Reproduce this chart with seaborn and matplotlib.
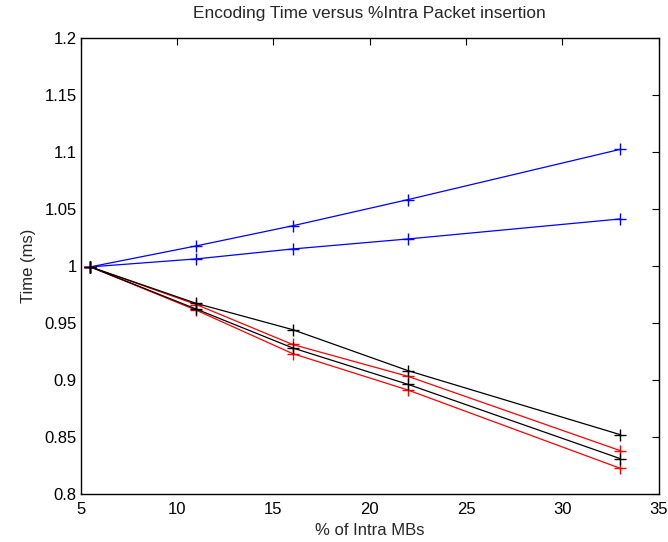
import matplotlib
matplotlib.use("Agg")
import matplotlib.pyplot as plt
import seaborn as sns
import numpy as np

# Data
intra_pct = [5.5, 11, 16, 22, 33]
blue_upper = [0.999, 1.0174, 1.035, 1.058, 1.102]
blue_lower = [0.999, 1.006, 1.0147, 1.0235, 1.041]
red_upper = [0.999, 0.966, 0.931, 0.903, 0.838]
red_lower = [0.999, 0.961, 0.923, 0.891, 0.8225]
black_upper = [0.999, 0.967, 0.944, 0.908, 0.852]
black_lower = [0.999, 0.962, 0.928, 0.896, 0.831]

x_ticks = [5, 10, 15, 20, 25, 30, 35]
y_ticks = [0.8, 0.85, 0.9, 0.95, 1.0, 1.05, 1.1, 1.15, 1.2]
y_labels = ["0.8", "0.85", "0.9", "0.95", "1", "1.05", "1.1", "1.15", "1.2"]

sns.set_style("white")
plt.rcParams['font.family'] = ['Liberation Sans', 'DejaVu Sans']

fig = plt.figure(figsize=(6.68, 5.42), dpi=100)
ax = fig.add_axes([0.1208, 0.0886, 0.8653, 0.8422])

series = [
    (blue_upper, "#0000ff"),
    (blue_lower, "#0000ff"),
    (red_upper, "#ff0000"),
    (red_lower, "#ff0000"),
    (black_upper, "#000000"),
    (black_lower, "#000000"),
]
for ys, col in series:
    sns.lineplot(x=intra_pct, y=ys, color=col, marker='+', markersize=9,
                 markeredgewidth=1.0, markeredgecolor=col, markerfacecolor=col,
                 linewidth=0.9, ax=ax, legend=False)

ax.set_xlim(5, 35)
ax.set_ylim(0.8, 1.2)
ax.set_xticks(x_ticks)
ax.set_xticklabels([str(t) for t in x_ticks])
ax.set_yticks(y_ticks)
ax.set_yticklabels(y_labels)
ax.tick_params(direction='in', length=5, width=0.8, top=True, right=True,
               labelsize=12, colors='black', pad=3)
ax.tick_params(axis='x', pad=6)
for s in ax.spines.values():
    s.set_visible(True)
    s.set_color('black')
    s.set_linewidth(1.0)

ax.set_xlabel("% of Intra MBs", fontsize=12, labelpad=4)
ax.set_ylabel("Time (ms)", fontsize=12, labelpad=6)
ax.set_title("Encoding Time versus %Intra Packet insertion", fontsize=12.4, pad=14)

fig.savefig("out.png", dpi=100)
